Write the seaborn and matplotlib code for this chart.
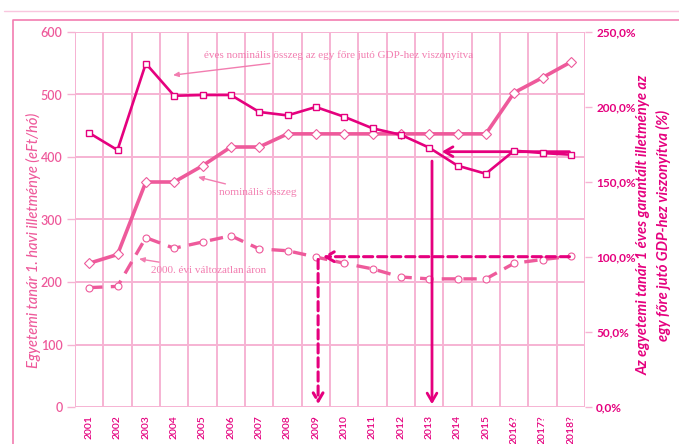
import numpy as np
import pandas as pd
import matplotlib
matplotlib.use("Agg")
import matplotlib.pyplot as plt
import seaborn as sns

years = ["2001", "2002", "2003", "2004", "2005", "2006", "2007", "2008", "2009",
         "2010", "2011", "2012", "2013", "2014", "2015", "2016?", "2017?", "2018?"]
nominal = [230, 244, 360, 360, 386, 416, 416, 437, 437,
           437, 437, 437, 437, 437, 437, 503, 527, 552]
real_2000 = [191, 193, 271, 254, 264, 274, 253, 250, 240,
             230, 221, 208, 205, 205, 205, 230, 236, 241]
gdp_ratio = [182.7, 171.3, 229.0, 207.5, 208.0, 208.0, 196.7, 194.4, 200.0,
             193.5, 185.8, 181.5, 172.9, 160.9, 155.5, 170.9, 169.3, 168.2]

MAG = "#E5007E"
PINK = "#EE5A9B"
LIGHT = "#F27DB0"
GRID = "#F6B3D3"

sns.set_style("white")
plt.rcParams["font.family"] = ["Lato", "DejaVu Sans"]

df = pd.DataFrame({"x": np.arange(len(years)), "nominal": nominal,
                   "real": real_2000, "ratio": gdp_ratio})

fig = plt.figure(figsize=(6.79, 4.44), dpi=100)
ax = fig.add_axes([75 / 679, 37 / 444, 510 / 679, 375 / 444])
ax2 = ax.twinx()

# page decoration
fig.add_artist(plt.Line2D([4 / 679, 1], [1 - 11 / 444] * 2, color="#F9C6DE", lw=1))
fig.add_artist(plt.Line2D([13 / 679, 13 / 679, 1], [0, 1 - 20 / 444, 1 - 20 / 444],
                          color="#F27DB0", lw=1.2))

sns.lineplot(data=df, x="x", y="nominal", ax=ax, color=PINK, lw=2.6,
             marker="D", markersize=5, markerfacecolor="white",
             markeredgecolor=PINK, markeredgewidth=0.8, zorder=4)
sns.lineplot(data=df, x="x", y="real", ax=ax, color=PINK, lw=2.4,
             marker="o", markersize=5, markerfacecolor="white",
             markeredgecolor=PINK, markeredgewidth=0.8, zorder=4)
ax.lines[-1].set_dashes([4, 2.5])
sns.lineplot(data=df, x="x", y="ratio", ax=ax2, color=MAG, lw=1.9,
             marker="s", markersize=5, markerfacecolor="white",
             markeredgecolor=MAG, markeredgewidth=1.0, zorder=4)

ax.set_xlim(-0.5, 17.5)
ax.set_ylim(0, 600)
ax2.set_ylim(0, 250)
ax.set_yticks(range(0, 601, 100))
ax2.set_yticks(range(0, 251, 50))
ax2.set_yticklabels([f"{v},0%" for v in range(0, 251, 50)])
ax.set_xticks(np.arange(len(years)))
ax.set_xticklabels(years, rotation=90)
ax.set_xticks(np.arange(-0.5, 18, 1), minor=True)

ax.grid(False)
ax2.grid(False)
for xb in np.arange(-0.5, 18, 1):
    ax.axvline(xb, color=GRID, lw=1.4, zorder=0)
for yv in range(100, 601, 100):
    ax.axhline(yv, color=GRID, lw=1.4, zorder=0)

for a in (ax, ax2):
    for s in a.spines.values():
        s.set_visible(False)
ax.axhline(0, color=GRID, lw=1.4, zorder=1)
ax.axvline(-0.5, color=GRID, lw=1.4, zorder=1)
ax2.axvline(17.5, color=GRID, lw=1.4, zorder=1)

ax.tick_params(axis="x", which="major", length=0, labelsize=7.5, labelcolor=MAG, pad=6)
ax.tick_params(axis="x", which="minor", length=4, color=GRID, width=1)
ax.tick_params(axis="y", length=6, color=GRID, width=1, labelsize=9,
               labelcolor=PINK, pad=3)
ax2.tick_params(axis="y", length=5, color=GRID, width=1, labelsize=8.5,
                labelcolor=MAG, pad=3)
for lab in ax2.get_yticklabels():
    lab.set_fontweight("bold")
for lab in ax.get_yticklabels() + ax.get_xticklabels():
    lab.set_fontweight("semibold")

ax.set_xlabel("")
ax.set_ylabel("")
ax2.set_ylabel("")
fig.text(33 / 679, 1 - 240 / 444, "Egyetemi tanár 1. havi illetménye (eFt/hó)",
         color=PINK, fontsize=10.5, style="italic", fontweight="medium",
         rotation=90, ha="center", va="center")
fig.text(654 / 679, 1 - 225 / 444,
         "Az egyetemi tanár 1 éves garantált illetménye az\n"
         "egy főre jutó GDP-hez viszonyítva (%)", color=MAG, fontsize=10.5,
         style="italic", fontweight="bold", rotation=90, ha="center", va="center",
         multialignment="center", linespacing=1.45)

# arrows pointing to the marked years
dash = dict(arrowstyle="->,head_length=0.6,head_width=0.35", color=MAG, lw=2.2,
            linestyle=(0, (3, 1.6)))
ax.annotate("", xy=(8.15, 240.5), xytext=(17.05, 240.5), arrowprops=dash, zorder=6)
ax.annotate("", xy=(8.08, 0), xytext=(8.08, 240.5), arrowprops=dash, zorder=6)
solid = dict(arrowstyle="->,head_length=0.6,head_width=0.35", color=MAG, lw=2.0)
ax.annotate("", xy=(12.35, 408.5), xytext=(17.05, 408.5), arrowprops=solid, zorder=6)
ax.annotate("", xy=(12.1, 0), xytext=(12.1, 398), arrowprops=solid, zorder=6)

# series labels
txt = dict(color=LIGHT, family=["Liberation Serif"], va="center", ha="left")
small = dict(arrowstyle="-|>,head_length=0.4,head_width=0.18", color=LIGHT, lw=1,
             shrinkA=1, shrinkB=0)
ax.annotate("éves nominális összeg az egy főre jutó GDP-hez viszonyítva",
            xy=(2.96, 531), xytext=(4.05, 563), arrowprops=small, fontsize=8.0, **txt)
ax.annotate("nominális összeg", xy=(3.84, 368), xytext=(4.58, 344),
            arrowprops=small, fontsize=8.2, **txt)
ax.annotate("2000. évi változatlan áron", xy=(1.76, 237), xytext=(2.18, 219),
            arrowprops=small, fontsize=8.0, **txt)

fig.savefig("out.png", dpi=100)
